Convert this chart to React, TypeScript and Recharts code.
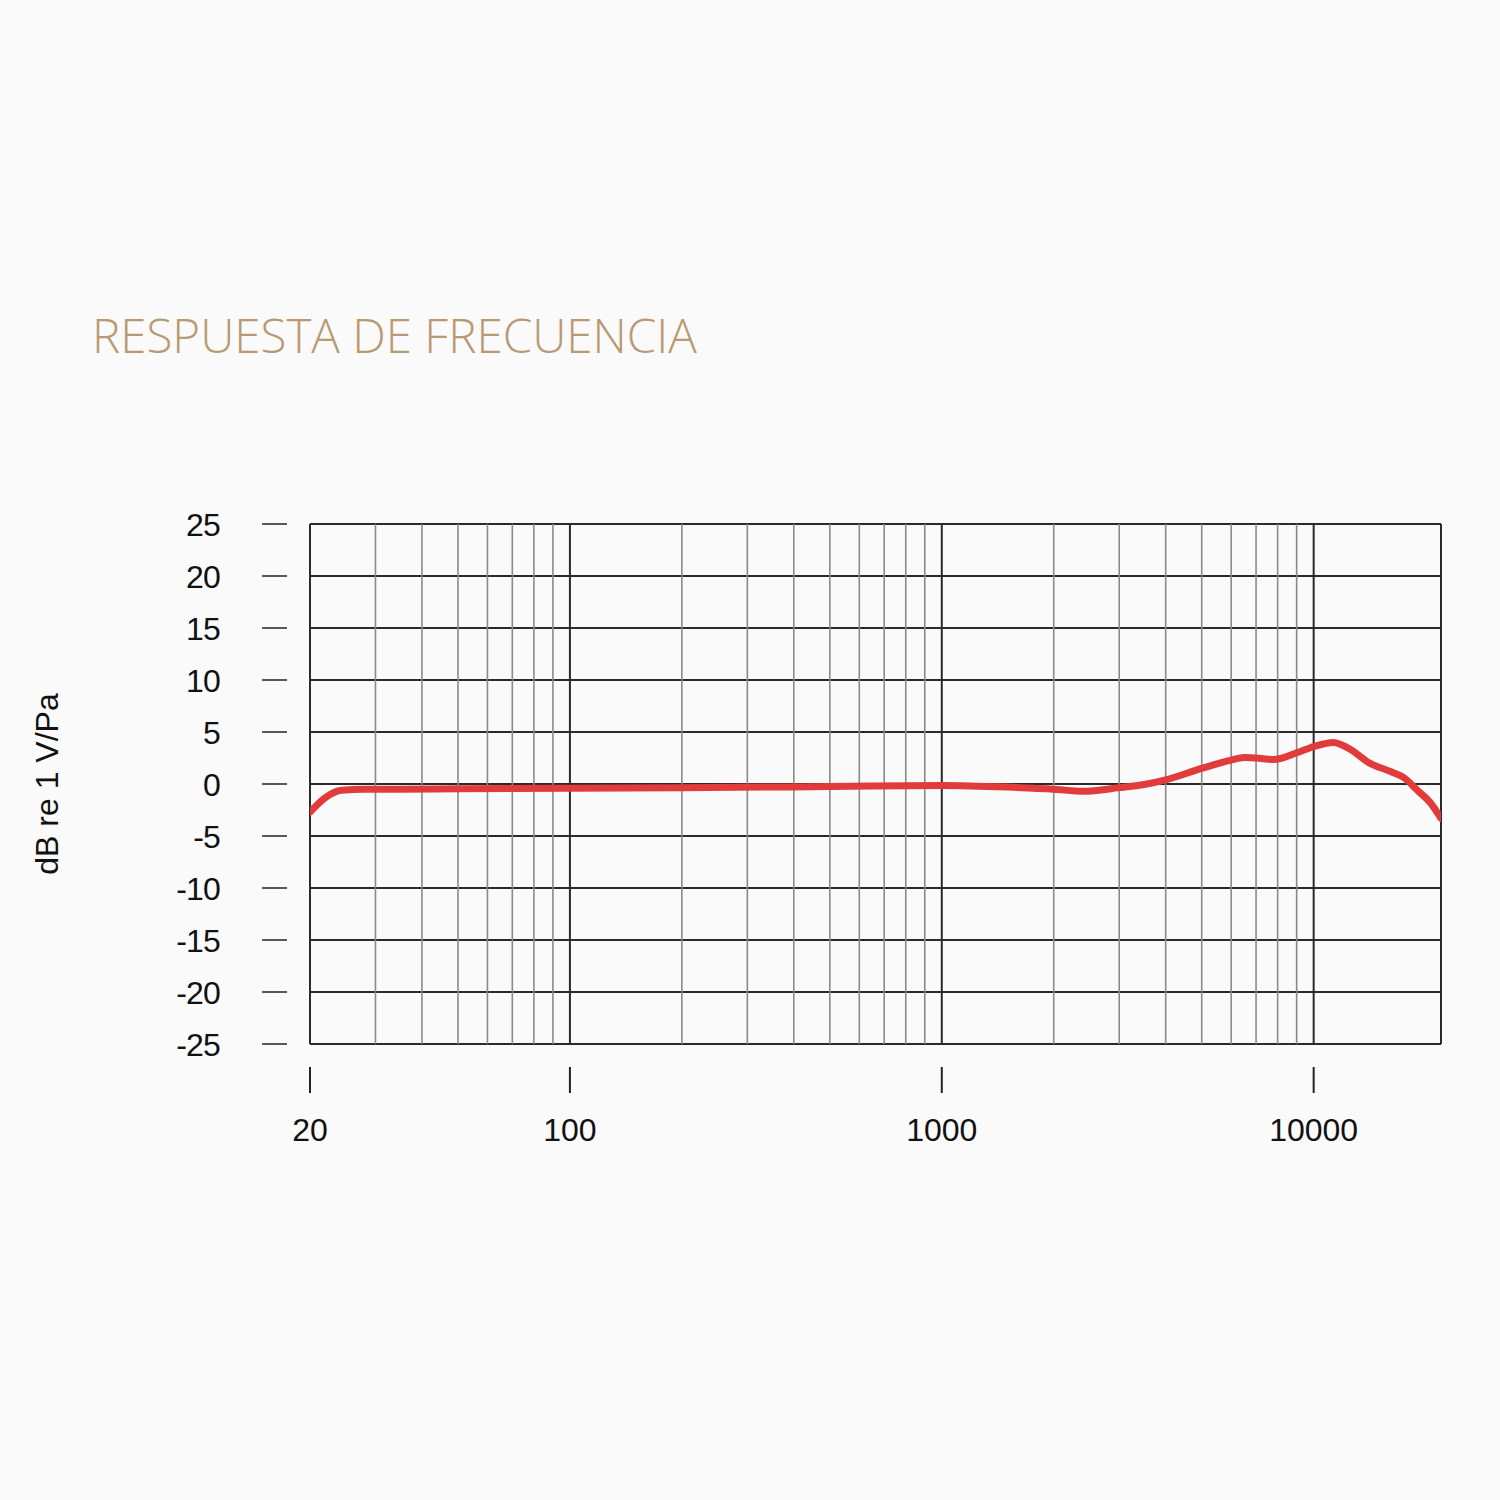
import React from "react";
import { LineChart, Line, XAxis, YAxis, CartesianGrid, ReferenceLine } from "recharts";

const freqs = [20, 22, 24.3, 28, 35, 50, 100, 200, 500, 1000, 1500, 2000, 2400, 3000, 3500, 4000, 5000, 6000, 6500, 7000, 7800, 9000, 10000, 11300, 12600, 14000, 16100, 17500, 19000, 20600, 22000];
const dbValues = [-2.7, -1.3, -0.6, -0.5, -0.5, -0.45, -0.4, -0.35, -0.25, -0.15, -0.3, -0.5, -0.7, -0.35, -0.05, 0.4, 1.5, 2.3, 2.55, 2.5, 2.35, 3.0, 3.6, 4.0, 3.3, 2.1, 1.2, 0.6, -0.6, -1.8, -3.3];

const xTicks = [20, 100, 1000, 10000];
const yTicks = [-25, -20, -15, -10, -5, 0, 5, 10, 15, 20, 25];
const majorVerticals = [20, 100, 1000, 10000, 22000];
const minorVerticals = [30, 40, 50, 60, 70, 80, 90, 200, 300, 400, 500, 600, 700, 800, 900, 2000, 3000, 4000, 5000, 6000, 7000, 8000, 9000];

const data = freqs.map((f, i) => ({ f, db: dbValues[i] }));

const FONT = "'Liberation Sans', Arial, sans-serif";

const YTick = (props: any) => {
  const { x, y, payload } = props;
  return (
    <g>
      <line x1={x - 48} x2={x - 23} y1={y} y2={y} stroke="#222" strokeWidth={1.5} />
      <text x={x - 90} y={y} dy={12} textAnchor="end" fontSize={32} fontFamily={FONT} fill="#111" letterSpacing={-0.8}>
        {payload.value}
      </text>
    </g>
  );
};

const XTick = (props: any) => {
  const { x, y, payload } = props;
  return (
    <g>
      <line x1={x} x2={x} y1={y + 23} y2={y + 49} stroke="#222" strokeWidth={2} />
      <text x={x} y={y + 97} textAnchor="middle" fontSize={32} fontFamily={FONT} fill="#111">
        {payload.value}
      </text>
    </g>
  );
};

export default function App() {
  return (
    <div style={{ position: "fixed", left: 0, top: 0, width: 1500, height: 1500, background: "#fafafa", overflow: "hidden" }}>
      <div
        style={{
          position: "absolute",
          left: 92,
          top: 302,
          fontFamily: "'Open Sans', sans-serif",
          fontWeight: 300,
          fontSize: 47.5,
          color: "#b89a72",
          whiteSpace: "nowrap",
        }}
      >
        RESPUESTA DE FRECUENCIA
      </div>
      <div
        style={{
          position: "absolute",
          left: 47,
          top: 784,
          transform: "translate(-50%, -50%) rotate(-90deg)",
          fontFamily: FONT,
          fontSize: 32,
          color: "#111",
          whiteSpace: "nowrap",
        }}
      >
        dB re 1 V/Pa
      </div>
      <div style={{ position: "absolute", left: 0, top: 0 }}>
        <LineChart width={1500} height={1500} data={data} margin={{ top: 524, right: 59, bottom: 336, left: 0 }}>
          <CartesianGrid horizontal={true} vertical={false} stroke="#2a2a2a" strokeWidth={2} />
          {minorVerticals.map((v) => (
            <ReferenceLine key={"m" + v} x={v} stroke="#8a8a8a" strokeWidth={1.6} ifOverflow="visible" />
          ))}
          {majorVerticals.map((v) => (
            <ReferenceLine key={"M" + v} x={v} stroke="#2a2a2a" strokeWidth={2} ifOverflow="visible" />
          ))}
          <XAxis
            dataKey="f"
            type="number"
            scale="log"
            domain={[20, 22000]}
            ticks={xTicks}
            axisLine={false}
            tickLine={false}
            tickSize={0}
            tickMargin={0}
            height={120}
            tick={<XTick />}
            interval={0}
            allowDataOverflow
          />
          <YAxis
            type="number"
            domain={[-25, 25]}
            ticks={yTicks}
            axisLine={false}
            tickLine={false}
            tickSize={0}
            tickMargin={0}
            width={310}
            tick={<YTick />}
            interval={0}
          />
          <Line
            type="monotone"
            dataKey="db"
            stroke="#e23b3b"
            strokeWidth={7}
            dot={false}
            isAnimationActive={false}
            strokeLinecap="round"
            strokeLinejoin="round"
          />
        </LineChart>
      </div>
    </div>
  );
}
